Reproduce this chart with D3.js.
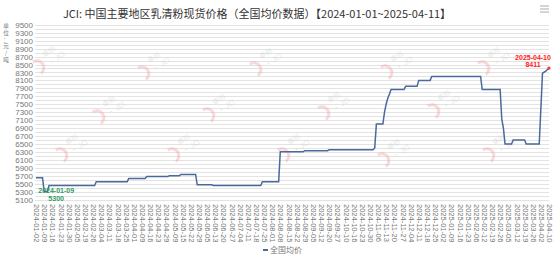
<!DOCTYPE html>
<html>
<head>
<meta charset="utf-8">
<script src="https://cdn.jsdelivr.net/npm/d3@7"></script>
<style>
  body { margin: 0; background: #fff; }
  svg { display: block; font-family: "Noto Sans CJK SC", "Noto Sans", sans-serif; }
</style>
</head>
<body>
<script>
const width = 554;
const height = 259;

// x tick labels, one every 5 data days
const tickDates = [
  "2024-01-02","2024-01-09","2024-01-16","2024-01-23","2024-01-30","2024-02-05","2024-02-19","2024-02-26",
  "2024-03-04","2024-03-11","2024-03-18","2024-03-25","2024-04-01","2024-04-09","2024-04-16","2024-04-23",
  "2024-04-29","2024-05-09","2024-05-15","2024-05-22","2024-05-29","2024-06-05","2024-06-13","2024-06-20",
  "2024-06-27","2024-07-04","2024-07-11","2024-07-18","2024-07-25","2024-08-01","2024-08-08","2024-08-15",
  "2024-08-22","2024-08-29","2024-09-05","2024-09-12","2024-09-20","2024-09-27","2024-10-10","2024-10-16",
  "2024-10-23","2024-10-30","2024-11-06","2024-11-13","2024-11-20","2024-11-27","2024-12-04","2024-12-11",
  "2024-12-18","2024-12-25","2025-01-02","2025-01-09","2025-01-16","2025-01-23","2025-02-06","2025-02-12",
  "2025-02-19","2025-02-26","2025-03-05","2025-03-12","2025-03-19","2025-03-26","2025-04-02","2025-04-10"
];
const tickStep = 5;
const dayCount = 316;

// price series: day index (0 = 2024-01-02) and price where it changes
const pointDay = [0, 4, 5, 7, 8, 36, 37, 56, 57, 67, 68, 81, 82, 88, 89, 98, 99, 108, 109,
  138, 139, 149, 150, 164, 165, 179, 180, 207, 208, 209, 213, 214, 215, 216, 217, 218,
  226, 227, 234, 235, 242, 243, 273, 274, 285, 286, 287, 288, 292, 293, 300, 301, 309, 311, 313, 315];
const pointPrice = [5650, 5650, 5300, 5300, 5450, 5450, 5550, 5550, 5630, 5630, 5680, 5680, 5700, 5700, 5730, 5730, 5470, 5470, 5450,
  5450, 5550, 5550, 6300, 6300, 6330, 6330, 6350, 6350, 6400, 7000, 7000, 7300, 7500, 7650, 7750, 7870,
  7870, 7950, 7950, 8100, 8100, 8200, 8200, 7870, 7870, 7130, 6900, 6500, 6500, 6600, 6600, 6500, 6500, 8280, 8330, 8411];

const yTicks = d3.range(5100, 9501, 200);
const yGrid = d3.range(5100, 9501, 100);
const yName = ["单", "位", "：", "元", "/", "吨"];
const seriesName = "全国均价";
const minLabel = { date: "2024-01-09", value: 5300, day: 5 };
const maxLabel = { date: "2025-04-10", value: 8411, day: 315 };

const svg = d3.select("body")
  .append("svg")
  .attr("width", width)
  .attr("height", height);

const x = d3.scaleLinear()
  .domain([0, dayCount - 1])
  .range([36, 549]);

const y = d3.scaleLinear()
  .domain([5100, 9500])
  .range([199.5, 24.8]);

// title
svg.append("text")
  .attr("x", 257)
  .attr("y", 18)
  .attr("text-anchor", "middle")
  .attr("font-size", 11)
  .attr("fill", "#333")
  .text("JCI: 中国主要地区乳清粉现货价格（全国均价数据）【2024-01-01~2025-04-11】");

// menu icon
svg.append("g")
  .selectAll("line")
  .data([0, 1, 2])
  .enter()
  .append("line")
  .attr("x1", 540).attr("x2", 549)
  .attr("y1", d => 6 + d * 3).attr("y2", d => 6 + d * 3)
  .attr("stroke", "#aaa")
  .attr("stroke-width", 1);

// grid lines every 100
svg.append("g")
  .selectAll("line")
  .data(yGrid)
  .enter()
  .append("line")
  .attr("x1", 35).attr("x2", 549)
  .attr("y1", d => Math.round(y(d)) + 0.5)
  .attr("y2", d => Math.round(y(d)) + 0.5)
  .attr("stroke", "#e3e3e3")
  .attr("stroke-width", 1);

// watermarks
const marks = [[45, 62], [150, 68], [262, 64], [393, 67], [490, 63],
  [105, 112], [215, 110], [330, 108], [440, 106],
  [68, 150], [180, 150], [290, 150], [390, 155], [495, 150]];
const wm = svg.append("g").selectAll("g")
  .data(marks)
  .enter()
  .append("g")
  .attr("transform", d => `translate(${d[0]},${d[1]}) rotate(-35)`)
  .attr("opacity", 0.4);
wm.append("path")
  .attr("d", "M-10,-7 A7,7 0 1,1 -10,7")
  .attr("fill", "none")
  .attr("stroke", "#f2a3a3")
  .attr("stroke-width", 3);
wm.append("text")
  .attr("x", 2).attr("y", -4)
  .attr("font-size", 7)
  .attr("fill", "#c8c8c8")
  .text("卓创");
wm.append("text")
  .attr("x", 2).attr("y", 6)
  .attr("font-size", 7)
  .attr("fill", "#c8c8c8")
  .text("• JCI");

// y axis
const yAxis = svg.append("g")
  .attr("transform", "translate(33,0)")
  .call(d3.axisLeft(y).tickValues(yTicks).tickFormat(d3.format("d")).tickSize(0).tickPadding(0));
yAxis.select(".domain").remove();
yAxis.selectAll("text")
  .attr("font-size", 8)
  .attr("fill", "#777")
  .attr("font-family", "Liberation Sans, sans-serif");

// y axis name, stacked vertically
svg.append("g")
  .selectAll("text")
  .data(yName)
  .enter()
  .append("text")
  .attr("x", 6)
  .attr("y", (d, i) => 28 + i * 6.8)
  .attr("text-anchor", "middle")
  .attr("font-size", 5.6)
  .attr("fill", "#777")
  .text(d => d);

// x axis
const xAxis = svg.append("g")
  .attr("transform", "translate(0,201)")
  .call(d3.axisBottom(x)
    .tickValues(tickDates.map((d, i) => i * tickStep))
    .tickFormat((d, i) => tickDates[i])
    .tickSize(0)
    .tickPadding(0));
xAxis.select(".domain").remove();
xAxis.selectAll("text")
  .attr("font-size", 7.5)
  .attr("fill", "#777")
  .attr("font-family", "Liberation Sans, sans-serif")
  .attr("text-anchor", "start")
  .attr("dy", "0.32em")
  .attr("transform", "translate(0,3) rotate(90)");

// line
const points = pointDay.map((d, i) => ({ day: d, price: pointPrice[i] }));
const line = d3.line()
  .x(d => x(d.day))
  .y(d => y(d.price));

svg.append("path")
  .datum(points)
  .attr("fill", "none")
  .attr("stroke", "#4a6a9c")
  .attr("stroke-width", 1.5)
  .attr("d", line);

// min / max labels
svg.append("circle")
  .attr("cx", x(maxLabel.day))
  .attr("cy", y(maxLabel.value))
  .attr("r", 1.6)
  .attr("fill", "#f33");

const ann = svg.append("g")
  .attr("font-family", "Liberation Sans, sans-serif")
  .attr("font-weight", "bold")
  .attr("font-size", 7)
  .attr("text-anchor", "middle");
ann.append("text")
  .attr("x", x(minLabel.day) + 12)
  .attr("y", y(minLabel.value) + 1)
  .attr("fill", "#2f9a5c")
  .text(minLabel.date);
ann.append("text")
  .attr("x", x(minLabel.day) + 12)
  .attr("y", y(minLabel.value) + 9)
  .attr("fill", "#2f9a5c")
  .text(minLabel.value);
ann.append("text")
  .attr("x", x(maxLabel.day) - 16)
  .attr("y", y(maxLabel.value) - 8)
  .attr("fill", "#f22")
  .text(maxLabel.date);
ann.append("text")
  .attr("x", x(maxLabel.day) - 16)
  .attr("y", y(maxLabel.value) - 1)
  .attr("fill", "#f22")
  .text(maxLabel.value);

// legend
const legend = svg.append("g").attr("transform", "translate(263,250)");
legend.append("line")
  .attr("x1", 0).attr("x2", 5)
  .attr("stroke", "#4a6a9c")
  .attr("stroke-width", 2);
legend.append("text")
  .attr("x", 7)
  .attr("dy", "0.35em")
  .attr("font-size", 8)
  .attr("fill", "#777")
  .text(seriesName);
</script>
</body>
</html>
